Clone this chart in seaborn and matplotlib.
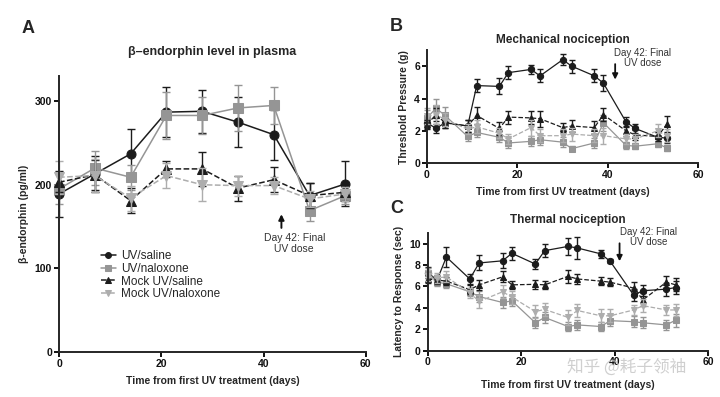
import numpy as np
import pandas as pd
import matplotlib
matplotlib.use('Agg')
import matplotlib.pyplot as plt
import seaborn as sns

# panel A: beta-endorphin in plasma (pg/ml)
days_a = [0, 7, 14, 21, 28, 35, 42, 49, 56]
uv_sal_a = [189, 213, 237, 287, 288, 275, 260, 187, 201]
uv_nal_a = [195, 220, 209, 283, 283, 292, 295, 169, 187]
mock_sal_a = [203, 212, 181, 219, 219, 196, 206, 187, 191]
mock_nal_a = [209, 211, 184, 211, 200, 199, 199, 183, 189]
uv_sal_a_err = [28, 22, 30, 30, 26, 30, 30, 15, 27]
uv_nal_a_err = [18, 20, 15, 28, 22, 28, 22, 12, 10]
mock_sal_a_err = [12, 18, 15, 10, 20, 15, 15, 15, 10]
mock_nal_a_err = [20, 20, 15, 15, 20, 12, 10, 10, 8]

# panels B and C share the test days
days_bc = [0, 2, 4, 9, 11, 16, 18, 23, 25, 30, 32, 37, 39, 44, 46, 51, 53]

# panel B: mechanical threshold (g)
uv_sal_b = [2.5, 2.15, 2.5, 2.3, 4.8, 4.75, 5.6, 5.8, 5.4, 6.4, 6.0, 5.4, 4.95, 2.55, 2.15, 1.6, 1.55]
uv_nal_b = [2.8, 3.4, 2.95, 1.65, 1.9, 1.6, 1.25, 1.35, 1.45, 1.3, 0.9, 1.25, 2.5, 1.1, 1.05, 1.2, 0.95]
mock_sal_b = [2.4, 3.0, 2.5, 2.3, 2.95, 2.15, 2.85, 2.8, 2.75, 2.2, 2.3, 2.2, 3.0, 2.0, 1.75, 1.65, 2.4]
mock_nal_b = [2.9, 3.0, 2.7, 2.1, 2.25, 1.85, 1.5, 2.2, 1.7, 1.7, 1.8, 1.7, 1.7, 1.5, 1.5, 2.0, 1.7]
uv_sal_b_err = [0.3, 0.3, 0.3, 0.4, 0.4, 0.5, 0.4, 0.3, 0.4, 0.35, 0.4, 0.4, 0.5, 0.3, 0.3, 0.3, 0.3]
uv_nal_b_err = [0.5, 0.6, 0.5, 0.3, 0.3, 0.3, 0.3, 0.3, 0.3, 0.3, 0.15, 0.3, 0.5, 0.2, 0.2, 0.2, 0.2]
mock_sal_b_err = [0.3, 0.4, 0.3, 0.4, 0.5, 0.4, 0.4, 0.4, 0.5, 0.3, 0.4, 0.4, 0.4, 0.3, 0.3, 0.3, 0.5]
mock_nal_b_err = [0.5, 0.6, 0.4, 0.3, 0.4, 0.3, 0.3, 0.5, 0.4, 0.4, 0.4, 0.4, 0.5, 0.3, 0.3, 0.4, 0.4]

# panel C: thermal latency (sec)
uv_sal_c = [7.3, 6.6, 8.75, 6.7, 8.2, 8.4, 9.1, 8.1, 9.35, 9.75, 9.6, 9.05, 8.35, 5.2, 5.6, 5.75, 5.9]
uv_nal_c = [7.25, 6.4, 6.25, 5.5, 5.05, 4.5, 4.65, 2.6, 3.1, 2.25, 2.4, 2.25, 2.8, 2.7, 2.6, 2.4, 2.85]
mock_sal_c = [6.7, 6.6, 6.5, 5.7, 6.15, 6.9, 6.15, 6.2, 6.15, 6.95, 6.7, 6.5, 6.4, 5.85, 4.75, 6.4, 6.15]
mock_nal_c = [7.0, 6.8, 6.9, 5.4, 4.6, 5.5, 5.0, 3.65, 3.85, 3.1, 3.75, 3.25, 3.25, 3.8, 4.2, 3.8, 3.8]
uv_sal_c_err = [0.5, 0.5, 0.9, 0.5, 0.7, 0.7, 0.6, 0.5, 0.6, 0.8, 1.0, 0.4, 0.2, 0.6, 0.5, 0.6, 0.6]
uv_nal_c_err = [0.5, 0.4, 0.4, 0.4, 0.5, 0.5, 0.5, 0.5, 0.5, 0.4, 0.5, 0.4, 0.5, 0.5, 0.5, 0.5, 0.6]
mock_sal_c_err = [0.4, 0.4, 0.4, 0.4, 0.5, 0.5, 0.4, 0.4, 0.4, 0.6, 0.5, 0.4, 0.4, 0.6, 0.6, 0.6, 0.6]
mock_nal_c_err = [0.5, 0.5, 0.5, 0.5, 0.6, 0.6, 0.6, 0.6, 0.6, 0.7, 0.6, 0.6, 0.6, 0.5, 0.6, 0.5, 0.6]

labels = ['UV/saline', 'UV/naloxone', 'Mock UV/saline', 'Mock UV/naloxone']
styles = [
    dict(color='#1c1c1c', marker='o', ls='-'),
    dict(color='#959595', marker='s', ls='-'),
    dict(color='#1c1c1c', marker='^', ls='--'),
    dict(color='#adadad', marker='v', ls='--'),
]

sns.set_style('ticks')
plt.rcParams['font.family'] = ['Liberation Sans', 'DejaVu Sans', 'Noto Sans CJK SC']
plt.rcParams['axes.linewidth'] = 1.4
plt.rcParams['xtick.major.width'] = 1.4
plt.rcParams['ytick.major.width'] = 1.4
plt.rcParams['xtick.major.size'] = 3.5
plt.rcParams['ytick.major.size'] = 3.5


def draw_panel(ax, days, series, errs, msize, cap, lw):
    for vals, err, lab, st in zip(series, errs, labels, styles):
        ax.errorbar(days, vals, yerr=err, fmt='none', ecolor=st['color'],
                    elinewidth=1.0, capsize=cap, capthick=1.0, clip_on=False)
        sns.lineplot(x=days, y=vals, ax=ax, color=st['color'], marker=st['marker'],
                     linestyle=st['ls'], linewidth=lw, markersize=msize,
                     markeredgecolor=st['color'], label=lab, clip_on=False)
    ax.set_xlim(0, 60)
    ax.set_xticks([0, 20, 40, 60])
    sns.despine(ax=ax)
    ax.tick_params(labelsize=7.5, pad=1.5, colors='#111111')
    for t in ax.get_xticklabels() + ax.get_yticklabels():
        t.set_fontweight('bold')
    ax.set_xlabel('Time from first UV treatment (days)', fontsize=7.5,
                  fontweight='bold', labelpad=5)


fig = plt.figure(figsize=(7.2, 3.97), dpi=100)
ax_a = fig.add_axes([0.082, 0.114, 0.426, 0.694])
ax_b = fig.add_axes([0.593, 0.589, 0.377, 0.285])
ax_c = fig.add_axes([0.594, 0.117, 0.390, 0.296])

draw_panel(ax_a, days_a, [uv_sal_a, uv_nal_a, mock_sal_a, mock_nal_a],
           [uv_sal_a_err, uv_nal_a_err, mock_sal_a_err, mock_nal_a_err], 6.5, 3.0, 1.1)
ax_a.set_ylim(0, 330)
ax_a.set_yticks([0, 100, 200, 300])
ax_a.set_ylabel('β-endorphin (pg/ml)', fontsize=7.5, fontweight='bold', labelpad=4)
ax_a.set_title('β–endorphin level in plasma', fontsize=9, fontweight='bold', pad=15)
ax_a.legend(loc='upper left', bbox_to_anchor=(0.12, 0.385), frameon=False, fontsize=8.5,
            handlelength=1.3, handletextpad=0.4, labelspacing=0.05, borderaxespad=0,
            markerscale=0.65)
ax_a.annotate('', xy=(43.5, 168), xytext=(43.5, 145),
              arrowprops=dict(arrowstyle='-|>', color='#111111', lw=1.4, mutation_scale=8))
ax_a.text(46, 142, 'Day 42: Final\nUV dose', fontsize=7.5, color='#333333',
          ha='center', va='top', linespacing=1.1)

draw_panel(ax_b, days_bc, [uv_sal_b, uv_nal_b, mock_sal_b, mock_nal_b],
           [uv_sal_b_err, uv_nal_b_err, mock_sal_b_err, mock_nal_b_err], 4.5, 2.0, 0.9)
ax_b.set_ylim(0, 7)
ax_b.set_yticks([0, 2, 4, 6])
ax_b.set_ylabel('Threshold Pressure (g)', fontsize=7.5, fontweight='bold', labelpad=4)
ax_b.set_title('Mechanical nociception', fontsize=8.5, fontweight='bold', pad=5)
ax_b.get_legend().remove()
ax_b.annotate('', xy=(41.6, 5.0), xytext=(41.6, 6.3),
              arrowprops=dict(arrowstyle='-|>', color='#111111', lw=1.3, mutation_scale=8))
ax_b.text(47.7, 7.15, 'Day 42: Final\nUV dose', fontsize=7, color='#333333',
          ha='center', va='top', linespacing=1.1)

draw_panel(ax_c, days_bc, [uv_sal_c, uv_nal_c, mock_sal_c, mock_nal_c],
           [uv_sal_c_err, uv_nal_c_err, mock_sal_c_err, mock_nal_c_err], 4.5, 2.0, 0.9)
ax_c.set_ylim(0, 11)
ax_c.set_yticks([0, 2, 4, 6, 8, 10])
ax_c.set_ylabel('Latency to Response (sec)', fontsize=7.5, fontweight='bold', labelpad=4)
ax_c.set_title('Thermal nociception', fontsize=8.5, fontweight='bold', pad=7)
ax_c.get_legend().remove()
ax_c.xaxis.labelpad = 9
ax_c.annotate('', xy=(41, 8.1), xytext=(41, 10.3),
              arrowprops=dict(arrowstyle='-|>', color='#111111', lw=1.3, mutation_scale=8))
ax_c.text(47.2, 11.6, 'Day 42: Final\nUV dose', fontsize=7, color='#333333',
          ha='center', va='top', linespacing=1.1)

fig.text(0.039, 0.929, 'A', fontsize=13, fontweight='bold', ha='center', va='center')
fig.text(0.551, 0.932, 'B', fontsize=13, fontweight='bold', ha='center', va='center')
fig.text(0.551, 0.476, 'C', fontsize=13, fontweight='bold', ha='center', va='center')
fig.text(0.87, 0.076, '知乎 @耗子领袖', fontsize=12, color='#c4c4c4', alpha=0.8,
         ha='center', va='center', family=['Noto Sans CJK SC', 'DejaVu Sans'])

fig.savefig('out.png', dpi=100)
